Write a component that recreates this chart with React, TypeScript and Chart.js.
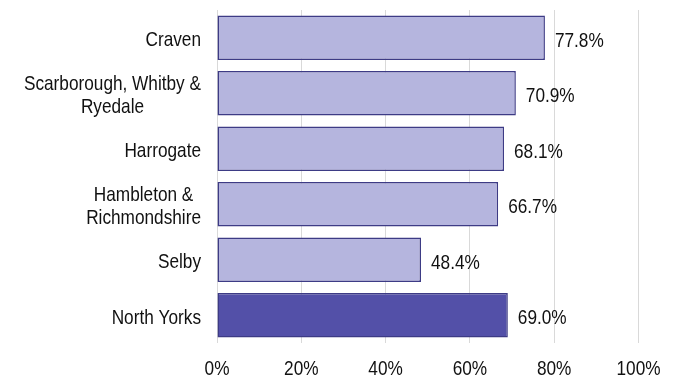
import React, { useEffect, useRef } from "react";
import { Chart, registerables } from "chart.js";

Chart.register(...registerables);

const categories: string[][] = [
  ["Craven"],
  ["Scarborough, Whitby &", "Ryedale"],
  ["Harrogate"],
  ["Hambleton &", "Richmondshire"],
  ["Selby"],
  ["North Yorks"],
];
const values = [77.8, 70.9, 68.1, 66.7, 48.4, 69.0];
const xTicks = [0, 20, 40, 60, 80, 100];

const LIGHT = "#b5b5de";
const DARK = "#5350a8";
const BORDER = "#3d3b85";
const FONT = "'Liberation Sans', Arial, sans-serif";
const TEXT = "#111111";
const SQUEEZE = 0.82;
const LINE_GAP = 23.3;
const BASE_OFF = 8.5;

function narrowText(ctx: CanvasRenderingContext2D, text: string, x: number, y: number, align: "left" | "right" | "center") {
  const w = ctx.measureText(text).width * SQUEEZE;
  let left = x;
  if (align === "right") left = x - w;
  else if (align === "center") left = x - w / 2;
  ctx.save();
  ctx.translate(left, y);
  ctx.scale(SQUEEZE, 1);
  ctx.textAlign = "left";
  ctx.textBaseline = "alphabetic";
  ctx.fillText(text, 0, 0);
  ctx.restore();
}

const textPlugin = {
  id: "textPlugin",
  afterDraw(chart: any) {
    const ctx: CanvasRenderingContext2D = chart.ctx;
    const xs = chart.scales.x;
    const ys = chart.scales.y;
    const meta = chart.getDatasetMeta(0);
    ctx.save();
    ctx.font = `21px ${FONT}`;
    ctx.fillStyle = TEXT;
    // category labels (block right-aligned, lines centered within block)
    categories.forEach((lines, i) => {
      const cy = ys.getPixelForTick(i);
      const widths = lines.map((l) => ctx.measureText(l).width * SQUEEZE);
      const blockW = Math.max(...widths);
      const right = chart.chartArea.left - 16;
      const centerX = right - blockW / 2;
      const n = lines.length;
      lines.forEach((line, k) => {
        const by = cy + (k - (n - 1) / 2) * LINE_GAP + BASE_OFF;
        narrowText(ctx, line, centerX, by, "center");
      });
    });
    // x tick labels
    xTicks.forEach((v) => {
      const px = xs.getPixelForValue(v);
      narrowText(ctx, v + "%", px, 375, "center");
    });
    // value labels
    meta.data.forEach((bar: any, i: number) => {
      narrowText(ctx, values[i].toFixed(1) + "%", bar.x + 10, bar.y + 9, "left");
    });
    ctx.restore();
  },
};

export default function App() {
  const ref = useRef<HTMLCanvasElement>(null);
  useEffect(() => {
    if (!ref.current) return;
    const chart = new Chart(ref.current, {
      type: "bar",
      data: {
        labels: categories.map((c) => c.join(" ")),
        datasets: [
          {
            data: values,
            backgroundColor: values.map((_, i) => (i === values.length - 1 ? DARK : LIGHT)),
            borderColor: BORDER,
            borderWidth: 1.5,
            borderSkipped: false,
            categoryPercentage: 1,
            barPercentage: 0.8,
          },
        ],
      },
      options: {
        indexAxis: "y",
        animation: false,
        responsive: true,
        maintainAspectRatio: false,
        layout: { padding: { top: 10, right: 37.5, left: 0, bottom: 0 } },
        plugins: { legend: { display: false }, tooltip: { enabled: false } },
        scales: {
          x: {
            min: 0,
            max: 100,
            afterBuildTicks: (scale: any) => {
              scale.ticks = xTicks.map((v) => ({ value: v }));
            },
            ticks: { display: false },
            grid: { color: "#d9d9d9", drawTicks: false, lineWidth: 1 },
            border: { display: false },
            afterFit: (scale: any) => {
              scale.height = 35;
            },
          },
          y: {
            ticks: { display: false },
            grid: { display: false, drawTicks: false },
            border: { display: false },
            afterFit: (scale: any) => {
              scale.width = 217;
            },
          },
        },
      },
      plugins: [textPlugin],
    });
    return () => chart.destroy();
  }, []);
  return (
    <div style={{ position: "absolute", left: 0, top: 0, width: 676, height: 378, background: "#fff" }}>
      <canvas ref={ref} />
    </div>
  );
}
